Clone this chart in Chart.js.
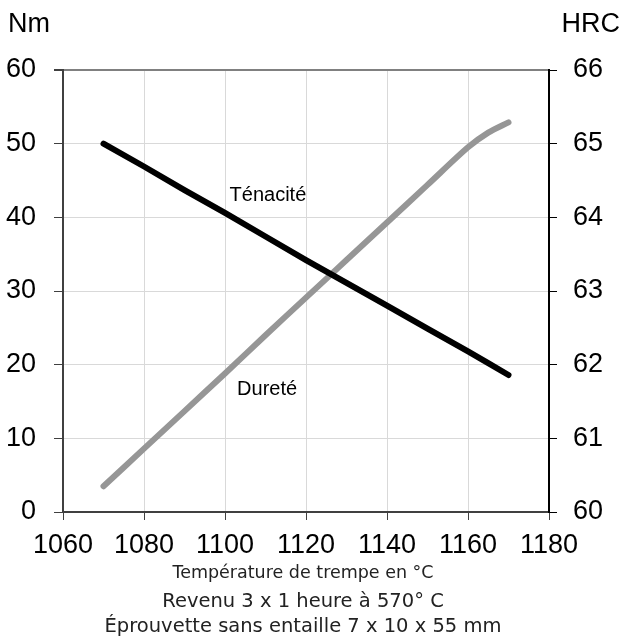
<!DOCTYPE html>
<html>
<head>
<meta charset="utf-8">
<script src="https://cdn.jsdelivr.net/npm/chart.js@4"></script>
<style>
  body { margin: 0; background: #fff; }
  #wrap { width: 623px; height: 637px; position: relative; }
</style>
</head>
<body>
<div id="wrap"><canvas id="myChart"></canvas></div>
<script>
"use strict";
// temperature de trempe (°C)
const temps = [1070, 1080, 1090, 1100, 1110, 1120, 1130, 1140, 1150, 1160, 1165, 1170];
// Ténacité (Nm, left axis)
const tenacite = [50, 46.9, 43.7, 40.6, 37.4, 34.2, 31.1, 28.0, 24.9, 21.8, 20.2, 18.6];
// Dureté (HRC, right axis)
const durete = [60.35, 60.86, 61.37, 61.88, 62.40, 62.91, 63.42, 63.93, 64.44, 64.95, 65.15, 65.29];

const xTicks = [1060, 1080, 1100, 1120, 1140, 1160, 1180];
const nmTicks = [0, 10, 20, 30, 40, 50, 60];
const hrcTicks = [60, 61, 62, 63, 64, 65, 66];

const seriesLabels = [
    { text: "Ténacité", x: 1110.6, y: 42.9 },
    { text: "Dureté", x: 1110.4, y: 16.6 }
];
const footLines = [
    "Température de trempe en °C",
    "Revenu 3 x 1 heure à 570° C",
    "Éprouvette sans entaille 7 x 10 x 55 mm"
];

const tickFont = { family: "'Liberation Sans', Arial, sans-serif", size: 27 };

const textPlugin = {
    id: "texts",
    afterDraw(chart) {
        const ctx = chart.ctx;
        const xs = chart.scales.x;
        const ys = chart.scales.y;
        ctx.save();
        ctx.fillStyle = "#000";
        ctx.font = "27px 'Liberation Sans', Arial, sans-serif";
        ctx.textBaseline = "alphabetic";
        ctx.textAlign = "left";
        ctx.fillText("Nm", 8, 32);
        ctx.textAlign = "right";
        ctx.fillText("HRC", 620, 32);

        ctx.font = "20px 'Liberation Sans', Arial, sans-serif";
        ctx.textAlign = "center";
        ctx.textBaseline = "middle";
        seriesLabels.forEach(l => {
            ctx.fillText(l.text, xs.getPixelForValue(l.x), ys.getPixelForValue(l.y));
        });

        const cx = 303;
        ctx.textBaseline = "alphabetic";
        ctx.font = "17.5px 'DejaVu Sans', sans-serif";
        ctx.fillStyle = "#222";
        ctx.fillText(footLines[0], cx, 578);
        ctx.font = "19.5px 'DejaVu Sans', sans-serif";
        ctx.fillText(footLines[1], cx, 607);
        ctx.fillText(footLines[2], cx, 632);
        ctx.restore();
    }
};

const ctx = document.querySelector("#myChart").getContext("2d");
const myChart = new Chart(ctx, {
    type: "line",
    data: {
        labels: temps,
        datasets: [{
            label: "Ténacité",
            data: temps.map((t, i) => ({ x: t, y: tenacite[i] })),
            borderColor: "#000",
            borderWidth: 6,
            borderCapStyle: "round",
            borderJoinStyle: "round",
            pointRadius: 0,
            tension: 0,
            yAxisID: "y"
        }, {
            label: "Dureté",
            data: temps.map((t, i) => ({ x: t, y: durete[i] })),
            borderColor: "#969696",
            borderWidth: 6,
            borderCapStyle: "round",
            borderJoinStyle: "round",
            pointRadius: 0,
            tension: 0.3,
            yAxisID: "y2"
        }]
    },
    options: {
        responsive: true,
        maintainAspectRatio: false,
        animation: false,
        layout: { padding: { top: 70, left: 0, right: 0, bottom: 0 } },
        plugins: {
            legend: { display: false },
            tooltip: { enabled: false }
        },
        scales: {
            x: {
                type: "linear",
                min: 1060,
                max: 1180,
                afterBuildTicks: s => { s.ticks = xTicks.map(v => ({ value: v })); },
                afterFit: s => { s.height = 125; },
                ticks: { font: tickFont, color: "#000", padding: 9, maxRotation: 0, callback: v => String(v) },
                grid: {
                    color: c => c.tick && c.tick.value === 1180 ? "#000" : (c.tick && c.tick.value === 1060 ? "#404040" : "#d9d9d9"),
                    lineWidth: 1,
                    tickColor: "#404040",
                    tickLength: 8
                },
                border: { color: "#404040", width: 2 }
            },
            y: {
                position: "left",
                min: 0,
                max: 60,
                afterBuildTicks: s => { s.ticks = nmTicks.map(v => ({ value: v })); },
                afterFit: s => { s.width = 63; },
                ticks: { font: tickFont, color: "#000", padding: 18 },
                grid: {
                    color: c => c.tick && c.tick.value === 60 ? "#808080" : (c.tick && c.tick.value === 0 ? "#404040" : "#d9d9d9"),
                    lineWidth: c => c.tick && c.tick.value === 60 ? 2 : 1,
                    tickColor: "#404040",
                    tickLength: 9
                },
                border: { color: "#404040", width: 2 }
            },
            y2: {
                position: "right",
                min: 60,
                max: 66,
                afterBuildTicks: s => { s.ticks = hrcTicks.map(v => ({ value: v })); },
                afterFit: s => { s.width = 74; },
                ticks: { font: tickFont, color: "#000", padding: 16 },
                grid: {
                    drawOnChartArea: false,
                    tickColor: "#000",
                    tickLength: 8
                },
                border: { color: "#000", width: 2 }
            }
        }
    },
    plugins: [textPlugin]
});
</script>
</body>
</html>
